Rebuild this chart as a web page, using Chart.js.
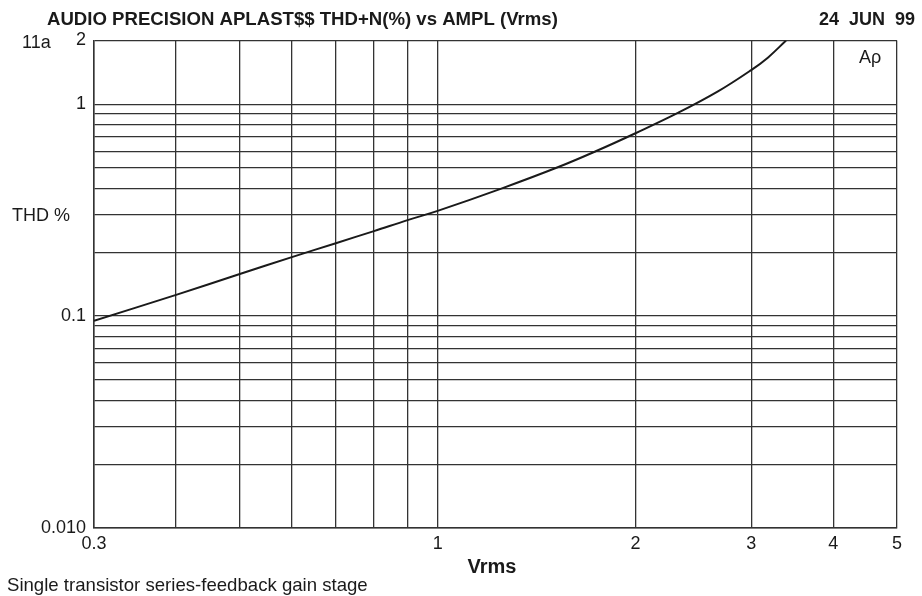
<!DOCTYPE html>
<html>
<head>
<meta charset="utf-8">
<script src="https://cdn.jsdelivr.net/npm/chart.js@4/dist/chart.umd.min.js"></script>
<style>
  html, body { margin: 0; padding: 0; background: #fff; }
  #wrap { width: 922px; height: 596px; position: relative; }
</style>
</head>
<body>
<div id="wrap"><canvas id="thd-chart"></canvas></div>
<script>
// THD+N vs output amplitude, single transistor stage
var vrms = [0.3, 0.4, 0.5, 0.6, 0.7, 0.8, 0.9, 1.0, 1.25, 1.53, 1.74, 2.0, 2.32, 2.67, 3.0, 3.18, 3.39];
var thdPct = [0.095, 0.126, 0.158, 0.19, 0.221, 0.252, 0.284, 0.314, 0.40, 0.507, 0.60, 0.73, 0.91, 1.15, 1.45, 1.66, 2.0];

// grid positions and which of them carry a label
var xGrid = [0.3, 0.4, 0.5, 0.6, 0.7, 0.8, 0.9, 1, 2, 3, 4, 5];
var xLabels = { 0.3: '0.3', 1: '1', 2: '2', 3: '3', 4: '4', 5: '5' };
var yGrid = [0.01, 0.02, 0.03, 0.04, 0.05, 0.06, 0.07, 0.08, 0.09, 0.1,
             0.2, 0.3, 0.4, 0.5, 0.6, 0.7, 0.8, 0.9, 1, 2];
var yLabels = { 0.01: '0.010', 0.1: '0.1', 1: '1', 2: '2' };

var FONT = '"Liberation Sans", Arial, Helvetica, sans-serif';
var INK = '#1a1a1a';
var GRID = '#333';

var points = vrms.map(function (v, i) { return { x: v, y: thdPct[i] }; });

var headerText = {
  id: 'headerText',
  afterDraw: function (chart) {
    var ctx = chart.ctx;
    ctx.save();
    ctx.fillStyle = INK;
    ctx.textBaseline = 'alphabetic';

    ctx.font = 'bold 18.6px ' + FONT;
    ctx.textAlign = 'left';
    ctx.fillText('AUDIO PRECISION APLAST$$ THD+N(%) vs AMPL (Vrms)', 47, 25);
    ctx.font = 'bold 18px ' + FONT;
    ctx.textAlign = 'right';
    ctx.fillText('24  JUN  99', 915, 25);

    ctx.font = '18px ' + FONT;
    ctx.textAlign = 'left';
    ctx.fillText('11a', 22, 48);
    ctx.fillText('THD %', 12, 221);
    ctx.fillText('A\u03C1', 859, 63);
    ctx.font = '18.6px ' + FONT;
    ctx.fillText('Single transistor series-feedback gain stage', 7, 591);

    ctx.font = 'bold 20px ' + FONT;
    ctx.textAlign = 'center';
    ctx.fillText('Vrms', 492, 573);
    ctx.restore();
  }
};

var ctxEl = document.getElementById('thd-chart');
var thdChart = new Chart(ctxEl, {
  type: 'line',
  data: {
    datasets: [{
      label: 'THD+N',
      data: points,
      borderColor: INK,
      borderWidth: 2,
      pointRadius: 0,
      fill: false,
      tension: 0.4
    }]
  },
  options: {
    responsive: true,
    maintainAspectRatio: false,
    animation: false,
    layout: { padding: { top: 40.5, right: 25, left: 0, bottom: 0 } },
    plugins: {
      legend: { display: false },
      tooltip: { enabled: false }
    },
    scales: {
      x: {
        type: 'logarithmic',
        min: 0.3,
        max: 5,
        afterBuildTicks: function (scale) {
          scale.ticks = xGrid.map(function (v) { return { value: v }; });
        },
        afterFit: function (scale) { scale.height = 68; },
        ticks: {
          autoSkip: false,
          maxRotation: 0,
          padding: 5,
          color: INK,
          font: { family: FONT, size: 18 },
          callback: function (v) { return xLabels[v] || ''; }
        },
        grid: { color: GRID, lineWidth: 1.3, drawTicks: false },
        border: { color: GRID, width: 1.5 }
      },
      y: {
        type: 'logarithmic',
        min: 0.01,
        max: 2,
        afterBuildTicks: function (scale) {
          scale.ticks = yGrid.map(function (v) { return { value: v }; });
        },
        afterFit: function (scale) { scale.width = 94; },
        ticks: {
          autoSkip: false,
          padding: 8,
          color: INK,
          font: { family: FONT, size: 18 },
          callback: function (v) { return yLabels[v] || ''; }
        },
        grid: { color: GRID, lineWidth: 1.3, drawTicks: false },
        border: { color: GRID, width: 1.5 }
      }
    }
  },
  plugins: [headerText]
});
</script>
</body>
</html>
